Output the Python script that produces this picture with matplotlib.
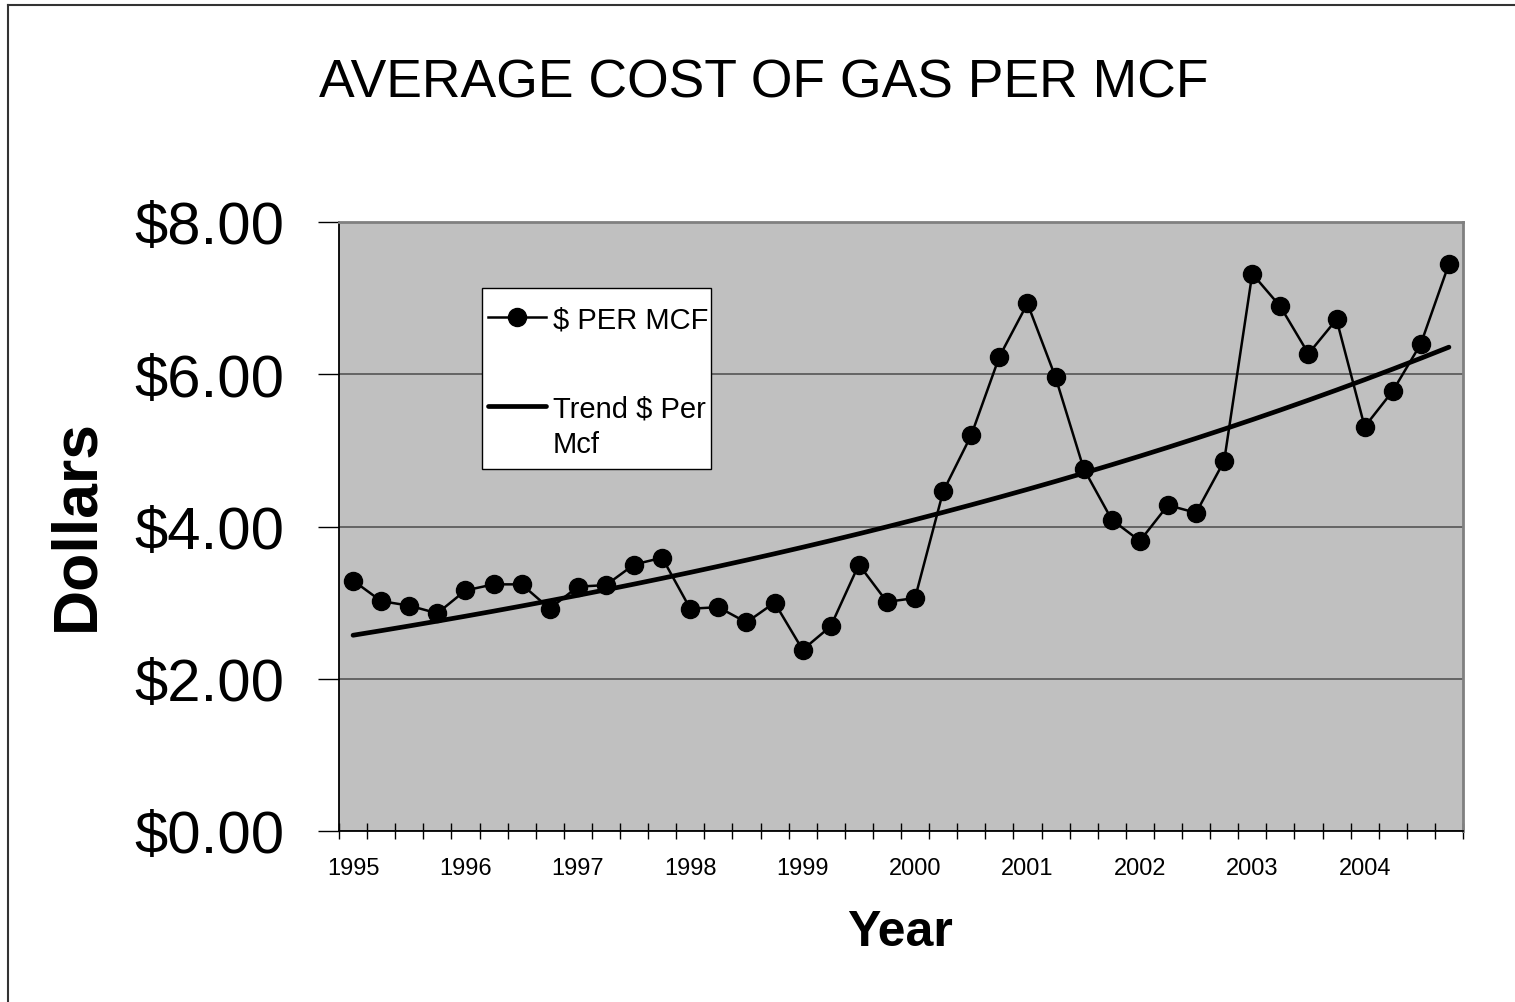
import numpy as np
import matplotlib
matplotlib.use("Agg")
import matplotlib.pyplot as plt
from matplotlib.lines import Line2D
from matplotlib.patches import Rectangle

plt.rcParams['font.family'] = ['Liberation Sans', 'DejaVu Sans']

# ---- data ----
years = ['1995', '1996', '1997', '1998', '1999', '2000', '2001', '2002', '2003', '2004']
price_per_mcf = [3.29, 3.02, 2.96, 2.86,
                 3.16, 3.24, 3.24, 2.92,
                 3.21, 3.23, 3.50, 3.59,
                 2.92, 2.94, 2.74, 3.00,
                 2.38, 2.69, 3.50, 3.01,
                 3.06, 4.46, 5.20, 6.23,
                 6.93, 5.96, 4.76, 4.09,
                 3.81, 4.28, 4.18, 4.86,
                 7.32, 6.89, 6.27, 6.72,
                 5.31, 5.78, 6.40, 7.45]
y_ticks = [0, 2, 4, 6, 8]
y_tick_labels = ['$0.00', '$2.00', '$4.00', '$6.00', '$8.00']

W, H = 1515, 1003
fig = plt.figure(figsize=(W / 100, H / 100), dpi=100)

def fx(px):
    return px / W

def fy(py):
    return 1 - py / H

ax = fig.add_axes([fx(339), fy(832), fx(1463) - fx(339), fy(223) - fy(832)])
ax.set_facecolor('#C0C0C0')

n = len(price_per_mcf)
xs = np.arange(n)
vals = np.array(price_per_mcf)

# exponential trend (least squares on log values, as Excel does)
b, a = np.polyfit(xs, np.log(vals), 1)
trend = np.exp(a + b * xs)

ax.plot(xs, trend, color='black', lw=3.4, solid_capstyle='round', zorder=3)
ax.plot(xs, vals, color='black', lw=1.8, marker='o', markersize=13,
        markerfacecolor='black', markeredgecolor='black', zorder=4)

ax.set_xlim(-0.5, n - 0.5)
ax.set_ylim(0, 8)

# gridlines
ax.set_yticks(y_ticks)
ax.set_yticklabels(y_tick_labels, fontsize=43)
ax.yaxis.grid(True, color='#555555', lw=1.2)
ax.set_axisbelow(True)
ax.tick_params(axis='y', direction='out', length=15, width=1, color='black', pad=24)

# x ticks: boundaries as major ticks (no labels), year labels as minor
ax.set_xticks(np.arange(-0.5, n, 1.0))
ax.set_xticklabels([])
ax.tick_params(axis='x', which='major', direction='inout', length=11, width=1, color='black')
ax.set_xticks(np.arange(0, n, 4), minor=True)
ax.set_xticklabels(years, minor=True, fontsize=17)
ax.tick_params(axis='x', which='minor', length=0, pad=19)

for side in ['top', 'right']:
    ax.spines[side].set_color('#808080')
    ax.spines[side].set_linewidth(2)
for side in ['left', 'bottom']:
    ax.spines[side].set_color('black')
    ax.spines[side].set_linewidth(1.3)

# titles
fig.text(fx(763.5), fy(97), 'AVERAGE COST OF GAS PER MCF', fontsize=38.5,
         ha='center', va='baseline')
fig.text(fx(93), fy(525), 'Dollars', fontsize=45, fontweight='bold',
         rotation=90, rotation_mode='anchor', ha='center', va='baseline')
fig.text(fx(900.5), fy(946), 'Year', fontsize=36, fontweight='bold',
         ha='center', va='baseline')

# legend (drawn as a box)
fig.add_artist(Rectangle((fx(482), fy(470)), fx(711) - fx(482), fy(289) - fy(470),
                         transform=fig.transFigure, facecolor='white',
                         edgecolor='black', lw=1, zorder=5))
fig.add_artist(Line2D([fx(488), fx(546)], [fy(318), fy(318)], transform=fig.transFigure,
                      color='black', lw=1.8, zorder=6))
fig.add_artist(Line2D([fx(517)], [fy(318)], transform=fig.transFigure, marker='o',
                      markersize=13, color='black', lw=0, zorder=6))
fig.add_artist(Line2D([fx(488), fx(546)], [fy(407), fy(407)], transform=fig.transFigure,
                      color='black', lw=3.4, solid_capstyle='round', zorder=6))
fig.text(fx(553), fy(329), '$ PER MCF', fontsize=21, ha='left', va='baseline', zorder=7)
fig.text(fx(553), fy(418), 'Trend $ Per', fontsize=21, ha='left', va='baseline', zorder=7)
fig.text(fx(553), fy(453), 'Mcf', fontsize=21, ha='left', va='baseline', zorder=7)

# chart-area border (left and top visible)
fig.add_artist(Line2D([fx(7.5), fx(7.5)], [fy(5.5), fy(H + 5)], transform=fig.transFigure,
                      color='#333333', lw=1.5))
fig.add_artist(Line2D([fx(7.5), fx(W + 5)], [fy(5.5), fy(5.5)], transform=fig.transFigure,
                      color='#333333', lw=1.5))

print('trend start/end', trend[0], trend[-1])
fig.savefig('out.png', dpi=100, facecolor='white')
